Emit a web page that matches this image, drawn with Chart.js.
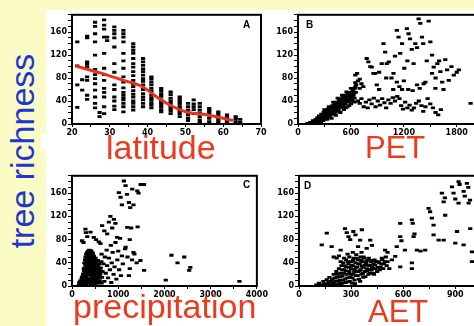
<!DOCTYPE html>
<html>
<head>
<meta charset="utf-8">
<script src="https://cdn.jsdelivr.net/npm/chart.js@4/dist/chart.umd.min.js"></script>
<style>
  html, body { margin: 0; padding: 0; }
  body { width: 474px; height: 326px; overflow: hidden; position: relative; background: #fbfbc6; font-family: "Liberation Sans", Arial, sans-serif; }
  #sheet { position: absolute; left: 46px; top: 10px; width: 440px; height: 330px; background: #fff; }
  #notch { position: absolute; left: 41px; top: 134px; width: 6px; height: 15px; background: #fff; }
  canvas { position: absolute; }
  .xlab { position: absolute; color: #ec3a1e; line-height: 1; white-space: nowrap; }
  .tag { position: absolute; font: bold 10px "Liberation Sans", Arial, sans-serif; line-height: 1; color: #000; }
  #ylab { position: absolute; left: -78px; top: 134px; width: 200px; height: 34px; font-size: 34px; line-height: 34px;
          text-align: center; color: #1f35d6; transform: rotate(-90deg); white-space: nowrap; }
</style>
</head>
<body>
<div id="sheet"></div>
<div id="notch"></div>
<div id="ylab">tree richness</div>

<canvas id="chartA" width="225" height="132" style="left:46px;top:8px"></canvas>
<canvas id="chartB" width="230" height="132" style="left:272px;top:8px"></canvas>
<canvas id="chartC" width="223" height="133" style="left:46px;top:169px"></canvas>
<canvas id="chartD" width="227" height="133" style="left:273px;top:169px"></canvas>

<div class="tag" style="left:243px;top:20px">A</div>
<div class="tag" style="left:306px;top:20px">B</div>
<div class="tag" style="left:243px;top:180px">C</div>
<div class="tag" style="left:304px;top:181px">D</div>

<div class="xlab" style="left:106px;top:130px;font-size:34px">latitude</div>
<div class="xlab" style="left:365px;top:132px;font-size:31px">PET</div>
<div class="xlab" style="left:73px;top:289px;font-size:34px">precipitation</div>
<div class="xlab" style="left:368px;top:296px;font-size:31px">AET</div>

<script>
// A: latitude columns -> richness values in each column
const latColumns = [21.4, 22.7, 24.0, 26.1, 27.3, 28.5, 29.3, 31.2, 33.6, 36.2, 38.8, 41.0, 43.6, 46.1, 48.5, 50.7, 52.2, 53.8, 56.3, 58.7, 61.0, 63.3, 64.5];
const latRichness = [
    [143, 101, 68, 29],
    [77, 59],
    [153, 150, 108, 104, 99, 82, 76, 50, 43],
    [177, 170, 157, 143, 120, 95, 86, 79, 70, 59, 47, 36, 28],
    [20, 13],
    [181, 172, 165, 151, 123, 97, 86, 76, 62, 55, 47, 30, 18],
    [151, 145],
    [169, 163, 157, 150, 134, 105, 90, 68, 60, 47, 40, 31, 25],
    [163, 157, 151, 143, 123, 110, 97, 82, 73, 63, 55, 50, 45, 42, 36, 30, 21],
    [140, 134, 128, 123, 114, 105, 99, 91, 84, 76, 70, 65, 58, 52, 47, 40, 36, 30, 24],
    [114, 108, 102, 96, 91, 85, 79, 74, 68, 60, 53, 47, 42, 36, 30],
    [82, 78, 73, 68, 62, 57, 50, 45, 42, 37, 33, 28],
    [62, 58, 53, 48, 42, 38, 34, 30, 25, 21],
    [56, 51, 45, 40, 36, 31, 27, 23, 18],
    [47, 43, 39, 35, 30, 26, 22, 18, 13],
    [36, 30, 24, 20, 16, 10, 6],
    [42, 35, 30, 25, 18],
    [36, 30, 24, 19, 13, 7, 3],
    [27, 24, 20, 16, 10, 4],
    [21, 17, 13, 8, 4],
    [16, 12, 7, 3],
    [13, 9, 4],
    [8, 3]
];
// red fitted curve in A
const trendLat = [21, 27.4, 33.6, 38.9, 42.4, 46.8, 50.3, 55.6, 62.6];
const trendRich = [101, 89, 76, 64, 47, 30, 21, 16, 6];

// B: [PET, richness]
const petPoints = [
    [110,1],[140,3],[160,1],[170,6],[185,3],[200,8],[210,2],[220,11],[230,5],[240,14],[250,8],[260,3],[265,17],[275,11],[285,6],
    [290,20],[300,14],[310,9],[315,23],[325,17],[335,12],[340,26],[350,20],[360,14],[365,29],[375,23],[385,17],[390,32],[400,26],
    [410,20],[415,35],[425,29],[435,23],[440,38],[450,32],[460,26],[465,41],[475,35],[485,29],[490,44],[500,38],[510,32],[515,47],
    [525,41],[535,35],[540,50],[550,44],[560,38],[565,52],[575,46],[585,40],[590,55],[600,49],[610,43],[620,58],[630,50],[640,45],
    [645,62],[655,55],[480,20],[520,25],[560,30],[430,15],[380,10],[330,8],[600,35],[640,38],
    [200,4],[215,6],[235,9],[245,5],[255,12],[270,8],[280,14],[295,10],[305,18],[320,12],[330,21],[345,15],[355,25],[370,19],
    [380,28],[395,22],[405,31],[420,25],[430,34],[445,28],[455,37],[470,31],[480,40],[495,34],[505,43],[520,37],[530,46],[545,40],
    [555,49],[570,43],[580,52],[595,46],[605,55],[615,50],[625,60],[635,54],[650,65],[300,25],[350,30],[400,38],[450,45],[500,50],
    [550,56],[600,62],[620,40],[580,32],[540,28],[500,30],[460,22],[420,18],
    [650,72],[660,68],[680,75],[700,78],[720,70],[650,85],[670,88],[700,62],[740,65],
    [680,40],[700,36],[720,44],[745,30],[770,38],[790,28],[810,42],[835,35],[860,45],[880,30],[905,40],[930,33],[955,44],[980,37],
    [1000,28],[1025,42],[1050,36],[1075,46],[1100,40],[1125,48],[1150,44],[1170,32],[1190,26],[1215,38],[1240,28],[1265,33],
    [1290,24],[1315,28],[1340,36],[1370,40],[1400,32],[1420,22],[1445,30],[1470,44],[1500,35],[1530,28],[1560,20],[1590,16],[1620,25],
    [779,114],[798,108],[820,100],[836,99],[855,88],[874,88],[893,68],[920,60],[950,105],[969,140],[988,125],[1007,105],[1030,108],
    [1060,80],[1083,88],[1121,73],[1121,163],[1140,151],[1159,123],[1180,140],[1205,97],[1235,166],[1254,157],[1270,148],[1290,130],
    [1311,105],[1330,140],[1350,133],[1368,183],[1387,175],[1406,151],[1420,140],[1425,70],[1445,73],[1482,179],[1501,143],[1520,120],
    [1539,99],[1558,62],[1580,105],[1600,110],[1615,91],[1635,73],[1650,60],[1670,112],[1691,94],[1710,76],[1740,100],[1767,85],
    [1800,90],[1824,94],[1957,36],[1080,60],[1150,65],[1200,75],[1250,60],[1300,58],[1350,68],[1380,62],[1460,110],[1520,88],
    [1560,80],[1240,110],[1100,118],[1000,80],[1180,60],[920,90]
];

// C: [precipitation, richness]
const precPoints = [
    [150,1],[170,4],[190,2],[200,7],[210,12],[220,4],[230,16],[235,9],[245,21],[250,2],[255,14],[260,26],[265,7],[270,19],[275,31],
    [280,11],[285,24],[290,36],[295,4],[300,16],[305,29],[310,41],[315,9],[320,22],[325,34],[330,46],[335,13],[340,27],[345,39],
    [350,51],[355,6],[360,19],[365,32],[370,44],[375,56],[380,11],[385,25],[390,37],[395,49],[400,61],[405,3],[410,17],[415,30],
    [420,42],[425,54],[430,8],[435,22],[440,35],[445,47],[450,57],[455,13],[460,27],[465,40],[470,52],[475,5],[480,19],[485,32],
    [490,45],[495,10],[500,24],[505,37],[510,48],[520,15],[525,29],[530,41],[540,7],[545,21],[550,34],[560,44],[570,13],[580,26],
    [590,38],[600,9],[610,20],[620,31],[635,42],[650,15],
    [160,6],[180,9],[200,2],[215,15],[225,8],[240,20],[240,3],[250,11],[258,30],[262,18],[268,40],[272,5],[278,28],[282,45],
    [288,14],[292,50],[298,24],[302,38],[308,55],[312,2],[318,45],[322,12],[328,58],[332,30],[338,50],[342,20],[348,60],[352,42],
    [358,30],[362,52],[368,8],[372,62],[378,38],[382,50],[388,20],[392,58],[398,44],[402,30],[408,52],[412,10],[418,60],[422,25],
    [428,48],[432,38],[438,55],[442,15],[448,30],[452,45],[458,5],[462,50],[468,20],[472,35],[478,44],[482,8],[488,26],[492,38],
    [498,16],[502,30],[508,4],[512,22],[518,40],[528,10],[535,30],[548,14],[555,25],[565,36],[575,5],[585,18],[595,28],[605,14],
    [625,25],[640,5],
    [640,55],[660,25],[680,38],[700,8],[710,50],[730,22],[750,62],[760,35],[780,14],[800,48],[820,28],[840,70],[850,6],[860,40],
    [880,58],[900,20],[920,33],[940,75],[960,12],[980,45],[1000,60],[1020,28],[1040,82],[1060,18],[1080,52],[1100,38],[1150,64],
    [1200,50],[1250,30],[1300,45],[1350,55],[1400,40],[1480,44],[1560,27],[1232,18],
    [217,78],[250,75],[290,98],[300,92],[330,85],[400,93],[471,84],[520,80],[580,76],[616,73],[652,104],[700,95],[761,90],[797,110],
    [830,120],[870,100],[906,115],[940,108],[978,84],[1014,161],[1051,153],[1080,140],[1123,181],[1159,173],[1190,158],[1232,144],
    [1260,135],[1304,167],[1330,140],[1413,164],[1440,160],[1486,175],[1558,175],[1196,101],[1280,100],[1159,67],[1250,80],
    [1330,58],[1420,102],
    [2029,10],[2152,53],[2283,40],[2428,50],[2536,27],[2560,32],[3623,8]
];

// D: [AET, richness]
const aetPoints = [
    [100,2],[115,5],[130,1],[140,8],[150,3],[160,11],[170,6],[175,15],[180,2],[190,12],[200,20],[200,5],[210,9],[215,25],[220,15],
    [225,3],[230,30],[235,10],[240,22],[245,35],[250,5],[250,17],[255,40],[260,28],[265,12],[270,45],[270,33],[275,20],[280,7],
    [285,38],[290,50],[290,25],[295,15],[300,42],[300,30],[305,5],[310,35],[310,20],[315,48],[320,28],[320,10],[325,40],[330,54],
    [330,18],[335,33],[340,45],[340,25],[345,12],[350,38],[355,50],[355,28],[360,20],[365,42],[370,32],[370,15],[375,48],[380,25],
    [385,38],[390,30],[395,45],[400,20],[405,35],[410,28],[415,42],[420,32],[425,22],[430,38],[435,45],[440,30],[450,25],[460,40],
    [470,33],[480,45],[490,38],[500,50],[510,42],[520,30],[280,55],[260,48],[240,42],[230,52],[310,58],[360,58],
    [120,2],[145,4],[165,2],[185,8],[195,3],[205,14],[212,2],[222,20],[228,8],[238,16],[242,4],[248,28],[252,10],[258,22],[262,35],
    [268,6],[272,26],[278,14],[282,42],[288,32],[292,8],[298,20],[302,36],[308,14],[312,44],[318,24],[322,4],[328,32],[332,48],
    [338,18],[342,38],[348,26],[352,8],[358,44],[362,34],[368,22],[372,50],[378,36],[382,16],[388,42],[392,26],[398,36],[402,48],
    [408,22],[412,36],[418,28],[422,44],[428,30],[432,20],[438,36],[445,42],[455,32],[465,28],[475,38],[485,30],[495,42],[505,35],
    [131,71],[160,91],[188,68],[200,50],[217,48],[240,62],[265,99],[275,92],[285,85],[295,80],[313,94],[325,88],[352,79],[362,97],
    [340,68],[390,65],[410,79],[420,70],[458,42],[477,48],[496,62],[510,58],[535,45],[554,51],[563,68],[583,108],[583,85],[590,78],
    [583,33],[610,62],[650,114],[655,108],[660,85],[665,90],[650,30],[650,40],[679,62],[700,60],[727,62],[746,134],[755,128],
    [765,117],[775,105],[775,88],[804,79],[833,79],[823,160],[833,145],[840,152],[842,122],[881,171],[890,160],[900,150],[910,94],
    [919,143],[919,180],[925,175],[948,163],[955,155],[967,177],[975,170],[977,143],[985,148],[948,71],[986,99],[996,59],[996,42],
    [900,74]
];

const richTicks = [0, 40, 80, 120, 160];

// frame around the plot area
const boxPlugin = {
    id: 'box',
    afterDraw(chart) {
        const { ctx, chartArea: a } = chart;
        ctx.save();
        ctx.strokeStyle = '#000';
        ctx.lineWidth = 2;
        ctx.strokeRect(a.left, a.top, a.right - a.left, a.bottom - a.top);
        ctx.restore();
    }
};

function dots(pairs) {
    return {
        type: 'scatter',
        data: pairs.map(p => ({ x: p[0], y: p[1] })),
        pointStyle: 'line',
        pointRadius: 2.1,
        borderWidth: 2.8,
        borderColor: '#000',
        backgroundColor: '#000',
    };
}

function makeChart(id, datasets, xMin, xMax, xStep, xLabelEvery) {
    const tickFont = { family: 'DejaVu Sans', weight: 'bold', size: 8 };
    return new Chart(document.getElementById(id), {
        type: 'scatter',
        data: { datasets },
        options: {
            responsive: false,
            animation: false,
            events: [],
            layout: { padding: { top: 6, right: 10, left: 0, bottom: 0 } },
            plugins: { legend: { display: false }, tooltip: { enabled: false } },
            scales: {
                x: {
                    type: 'linear', min: xMin, max: xMax,
                    afterFit: s => { s.height = 16; },
                    border: { display: true, color: '#000', width: 2 },
                    grid: { display: true, drawOnChartArea: false, drawTicks: true, tickLength: 3, color: '#000', lineWidth: 1 },
                    ticks: {
                        stepSize: xStep, autoSkip: false, maxRotation: 0, padding: 1, color: '#000', font: tickFont,
                        callback: v => (Math.abs(v % xLabelEvery) < 1e-6 ? String(v) : '')
                    }
                },
                y: {
                    type: 'linear', min: 0, max: 190,
                    afterFit: s => { s.width = 26; },
                    border: { display: true, color: '#000', width: 2 },
                    grid: { display: true, drawOnChartArea: false, drawTicks: true, tickLength: 4, color: '#000', lineWidth: 1 },
                    ticks: {
                        stepSize: 10, autoSkip: false, padding: 1, color: '#000', font: tickFont,
                        callback: v => (richTicks.includes(v) ? String(v) : '')
                    }
                }
            }
        },
        plugins: [boxPlugin]
    });
}

function init() {
    const latPairs = [];
    latColumns.forEach((lat, i) => latRichness[i].forEach(r => latPairs.push([lat, r])));

    const trend = {
        type: 'line',
        data: trendLat.map((x, i) => ({ x, y: trendRich[i] })),
        borderColor: '#e8321c',
        borderWidth: 3,
        pointRadius: 0,
        cubicInterpolationMode: 'monotone',
        showLine: true,
    };

    makeChart('chartA', [trend, dots(latPairs)], 20, 70, 5, 10);
    makeChart('chartB', [dots(petPoints)], 0, 2200, 300, 600);
    makeChart('chartC', [dots(precPoints)], 0, 4000, 500, 1000);
    makeChart('chartD', [dots(aetPoints)], 0, 1100, 150, 300);
}

document.addEventListener('DOMContentLoaded', init);
</script>
</body>
</html>
